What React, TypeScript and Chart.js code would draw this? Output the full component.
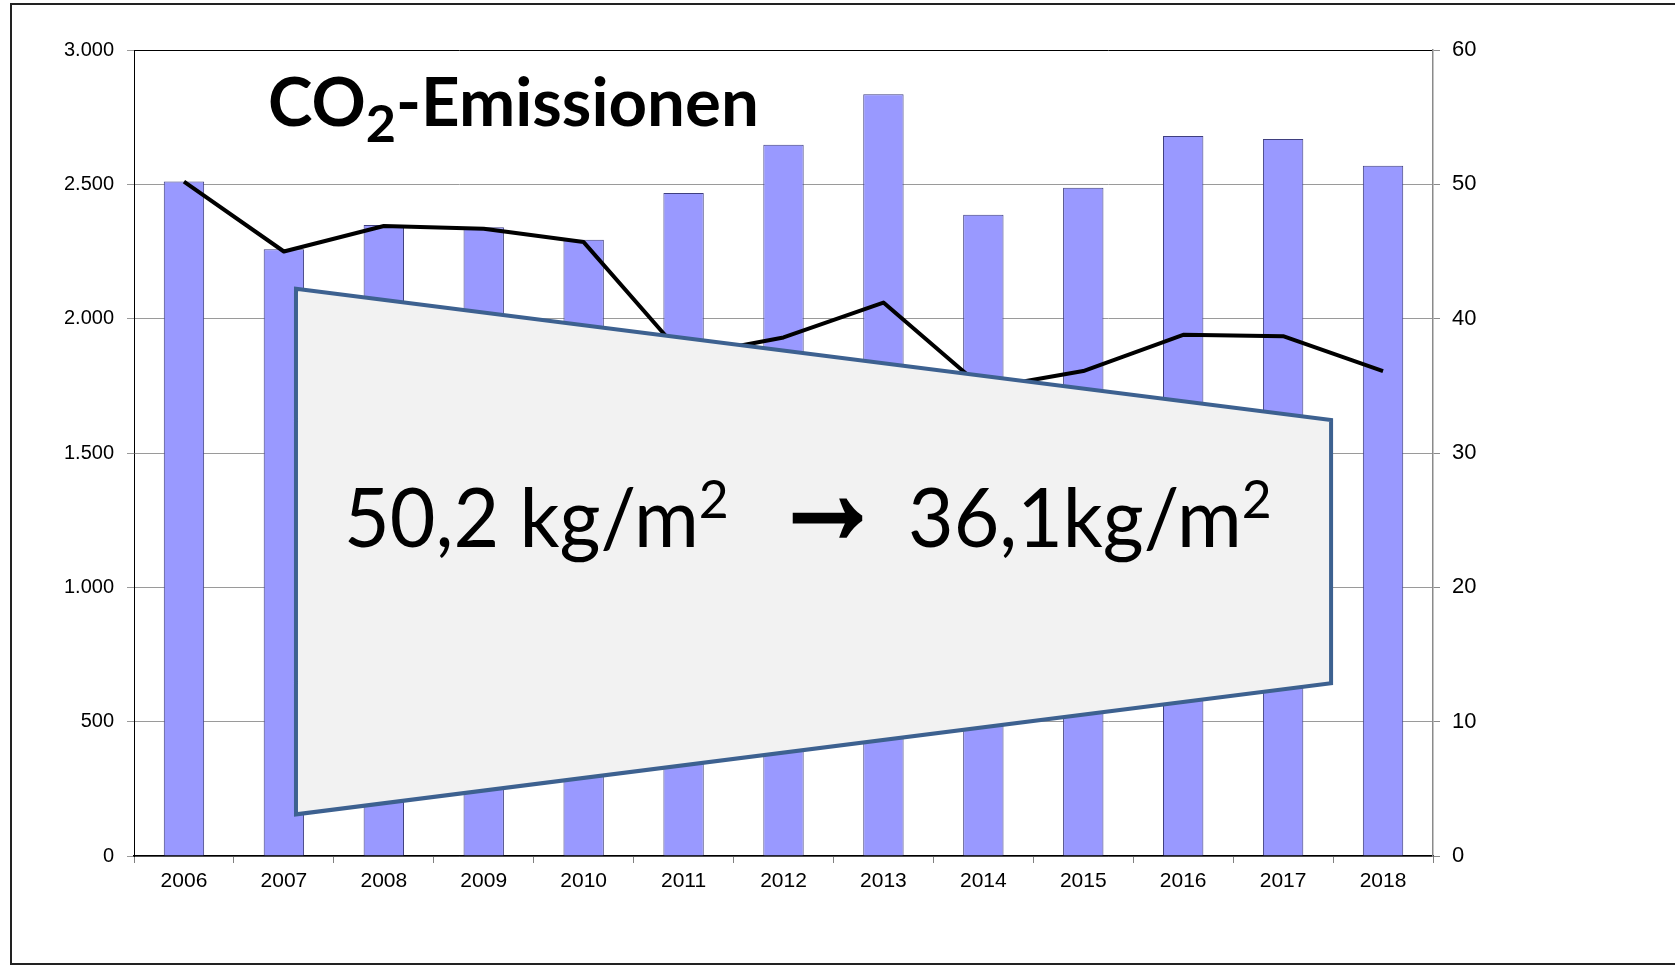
import { useEffect, useRef } from "react";
import { Chart, registerables } from "chart.js";

Chart.register(...registerables);

// ---- data ----
const years = ["2006", "2007", "2008", "2009", "2010", "2011", "2012", "2013", "2014", "2015", "2016", "2017", "2018"];
const totalEmissions = [2511, 2258, 2349, 2340, 2294, 2468, 2647, 2835, 2387, 2487, 2680, 2669, 2569];
const emissionsPerM2 = [50.2, 45.0, 46.9, 46.7, 45.7, 37.2, 38.6, 41.2, 34.8, 36.1, 38.8, 38.7, 36.1];
const leftAxis = { min: 0, max: 3000, step: 500 };
const rightAxis = { min: 0, max: 60, step: 10 };

const titleMain = "CO";
const titleSub = "2";
const titleRest = "-Emissionen";
const noteFrom = "50,2 kg/m";
const noteTo = "36,1kg/m";
const noteSup = "2";
const noteArrow = "\u2192";

// overlay trapezoid corners: [category index, left-axis value]
const boxCorners: [number, number][] = [
  [1.121, 2111],
  [11.48, 1623],
  [11.48, 643],
  [1.121, 155],
];

const TICK_FONT = "'Liberation Sans', Arial, sans-serif";
const TEXT_FONT = "Lato, 'Open Sans', sans-serif";

function fmtThousands(v: number) {
  return String(v).replace(/\B(?=(\d{3})+(?!\d))/g, ".");
}

type Part = { text: string; font: string; dy: number };

function drawFitted(ctx: CanvasRenderingContext2D, parts: Part[], x0: number, x1: number, baseline: number) {
  const widths: number[] = [];
  let inkStart = 0;
  let inkEnd = 0;
  let cx = 0;
  parts.forEach((p, i) => {
    ctx.font = p.font;
    const m = ctx.measureText(p.text);
    if (i === 0) inkStart = -m.actualBoundingBoxLeft;
    if (i === parts.length - 1) inkEnd = cx + m.actualBoundingBoxRight;
    widths.push(m.width);
    cx += m.width;
  });
  const sx = (x1 - x0) / (inkEnd - inkStart);
  ctx.save();
  ctx.translate(x0 - inkStart * sx, baseline);
  ctx.scale(sx, 1);
  ctx.fillStyle = "#000";
  ctx.textAlign = "left";
  ctx.textBaseline = "alphabetic";
  cx = 0;
  parts.forEach((p, i) => {
    ctx.font = p.font;
    ctx.fillText(p.text, cx, p.dy);
    cx += widths[i];
  });
  ctx.restore();
}

function drawInBox(
  ctx: CanvasRenderingContext2D,
  text: string,
  font: string,
  x0: number,
  y0: number,
  x1: number,
  y1: number,
  stroke: number
) {
  const inset = stroke / 2;
  x0 += inset;
  y0 += inset;
  x1 -= inset;
  y1 -= inset;
  ctx.save();
  ctx.font = font;
  ctx.textAlign = "left";
  ctx.textBaseline = "alphabetic";
  const m = ctx.measureText(text);
  const w = m.actualBoundingBoxLeft + m.actualBoundingBoxRight;
  const h = m.actualBoundingBoxAscent + m.actualBoundingBoxDescent;
  const sx = (x1 - x0) / w;
  const sy = (y1 - y0) / h;
  ctx.translate(x0, y0);
  ctx.scale(sx, sy);
  ctx.fillStyle = "#000";
  ctx.strokeStyle = "#000";
  ctx.lineJoin = "miter";
  ctx.lineWidth = stroke / ((sx + sy) / 2);
  ctx.fillText(text, m.actualBoundingBoxLeft, m.actualBoundingBoxAscent);
  ctx.strokeText(text, m.actualBoundingBoxLeft, m.actualBoundingBoxAscent);
  ctx.restore();
}

const overlayPlugin = {
  id: "overlay",
  afterDatasetsDraw(chart: any) {
    const ctx: CanvasRenderingContext2D = chart.ctx;
    const xs = chart.scales.x;
    const ys = chart.scales.y;
    const pts = boxCorners.map(([i, v]) => [xs.getPixelForValue(i), ys.getPixelForValue(v)]);
    ctx.save();
    ctx.beginPath();
    pts.forEach(([px, py], k) => (k === 0 ? ctx.moveTo(px, py) : ctx.lineTo(px, py)));
    ctx.closePath();
    ctx.fillStyle = "#F2F2F2";
    ctx.fill();
    ctx.lineWidth = 4;
    ctx.lineJoin = "miter";
    ctx.strokeStyle = "#3D6190";
    ctx.stroke();
    ctx.restore();

    drawFitted(
      ctx,
      [
        { text: noteFrom, font: `81px ${TEXT_FONT}`, dy: 0 },
        { text: noteSup, font: `53px ${TEXT_FONT}`, dy: -29 },
      ],
      348,
      726,
      547
    );
    drawInBox(ctx, noteArrow, `80px 'Liberation Sans', 'DejaVu Sans', sans-serif`, 792, 498, 863, 539, 4);
    drawFitted(
      ctx,
      [
        { text: noteTo, font: `81px ${TEXT_FONT}`, dy: 0 },
        { text: noteSup, font: `53px ${TEXT_FONT}`, dy: -29 },
      ],
      911,
      1269,
      547
    );
  },
  afterDraw(chart: any) {
    const ctx: CanvasRenderingContext2D = chart.ctx;
    drawFitted(
      ctx,
      [
        { text: titleMain, font: `bold 67px ${TEXT_FONT}`, dy: 0 },
        { text: titleSub, font: `bold 52px ${TEXT_FONT}`, dy: 16 },
        { text: titleRest, font: `bold 67px ${TEXT_FONT}`, dy: 0 },
      ],
      270,
      756,
      126
    );
  },
};

export default function App() {
  const ref = useRef<HTMLCanvasElement | null>(null);

  useEffect(() => {
    if (!ref.current) return;
    const chart = new Chart(ref.current, {
      type: "bar",
      data: {
        labels: years,
        datasets: [
          {
            type: "line",
            label: "kg/m²",
            data: emissionsPerM2,
            yAxisID: "y1",
            borderColor: "#000000",
            borderWidth: 4,
            pointRadius: 0,
            tension: 0,
            borderJoinStyle: "round",
            order: 0,
          } as any,
          {
            type: "bar",
            label: "CO2",
            data: totalEmissions,
            yAxisID: "y",
            backgroundColor: "#9999FF",
            borderColor: "#3F3F7F",
            borderWidth: 1,
            barPercentage: 0.404,
            categoryPercentage: 1,
            order: 1,
          } as any,
        ],
      },
      options: {
        responsive: false,
        animation: false,
        layout: { padding: { top: 50, left: 0, right: 0, bottom: 0 } },
        plugins: {
          legend: { display: false },
          tooltip: { enabled: false },
          title: { display: false },
        },
        scales: {
          x: {
            grid: {
              offset: true,
              drawOnChartArea: false,
              tickLength: 7,
              color: "#808080",
            },
            border: { color: "#000000", width: 1.5 },
            ticks: {
              color: "#000",
              font: { family: TICK_FONT, size: 21 },
              padding: 6,
              maxRotation: 0,
              autoSkip: false,
            },
            afterFit: (s: any) => {
              s.height = 112;
            },
          },
          y: {
            position: "left",
            min: leftAxis.min,
            max: leftAxis.max,
            ticks: {
              stepSize: leftAxis.step,
              color: "#000",
              font: { family: TICK_FONT, size: 20 },
              padding: 13,
              callback: (v: any) => fmtThousands(Number(v)),
            },
            grid: {
              color: (c: any) => (c.tick && c.tick.value === leftAxis.max ? "#000000" : "#9a9a9a"),
              tickColor: "#9a9a9a",
              tickLength: 7,
              lineWidth: 1,
            },
            border: { color: "#000000", width: 1 },
            afterFit: (s: any) => {
              s.width = 134;
            },
          },
          y1: {
            position: "right",
            min: rightAxis.min,
            max: rightAxis.max,
            ticks: {
              stepSize: rightAxis.step,
              color: "#000",
              font: { family: TICK_FONT, size: 22 },
              padding: 12,
            },
            grid: {
              drawOnChartArea: false,
              color: "#8a8a8a",
              tickLength: 7,
            },
            border: { color: "#8a8a8a", width: 1.5 },
            afterFit: (s: any) => {
              s.width = 242;
            },
          },
        },
      } as any,
      plugins: [overlayPlugin],
    });
    return () => chart.destroy();
  }, []);

  return (
    <div
      style={{
        position: "fixed",
        left: 0,
        top: 0,
        width: 1675,
        height: 968,
        overflow: "hidden",
        background: "#ffffff",
      }}
    >
      <div
        style={{
          position: "absolute",
          left: 10,
          top: 3,
          width: 1720,
          height: 962,
          border: "2px solid #222",
          boxSizing: "border-box",
        }}
      />
      <canvas
        ref={ref}
        width={1675}
        height={968}
        style={{ position: "absolute", left: 0, top: 0, width: 1675, height: 968, display: "block" }}
      />
    </div>
  );
}
